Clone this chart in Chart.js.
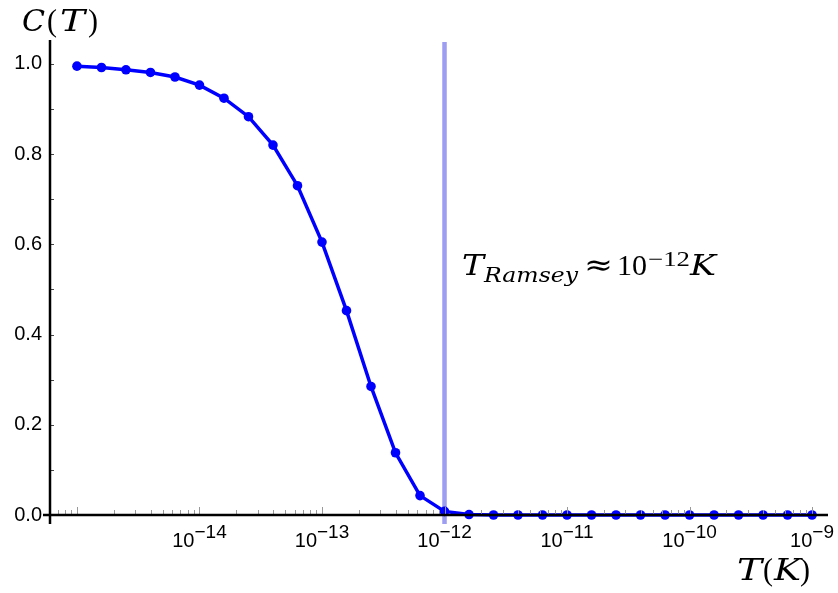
<!DOCTYPE html>
<html>
<head>
<meta charset="utf-8">
<script src="https://cdn.jsdelivr.net/npm/chart.js@4"></script>
<style>
html,body{margin:0;padding:0;background:#fff;}
#wrap{width:838px;height:593px;position:relative;}
</style>
</head>
<body>
<div id="wrap"><canvas id="c" width="838" height="593"></canvas></div>
<script>
// Data (exponents of T in K, and C(T) values)
const exponents = [-15, -14.8, -14.6, -14.4, -14.2, -14, -13.8, -13.6, -13.4, -13.2, -13, -12.8, -12.6, -12.4, -12.2, -12, -11.8, -11.6, -11.4, -11.2, -11, -10.8, -10.6, -10.4, -10.2, -10, -9.8, -9.6, -9.4, -9.2, -9];
const cValues = [0.995, 0.992, 0.987, 0.981, 0.971, 0.953, 0.924, 0.883, 0.820, 0.730, 0.605, 0.453, 0.285, 0.138, 0.043, 0.008, 0.001, 0, 0, 0, 0, 0, 0, 0, 0, 0, 0, 0, 0, 0, 0];
const labeledDecades = [-14, -13, -12, -11, -10, -9];
const yTicks = [0, 0.2, 0.4, 0.6, 0.8, 1.0];
const ramseyExponent = -12;

const points = exponents.map((e, i) => ({x: Math.pow(10, e), y: cValues[i]}));

const SANS = '"Liberation Sans", Arial, sans-serif';
const SERIF = '"Liberation Serif", "Times New Roman", serif';
const WSERIF = '"DejaVu Serif", "Liberation Serif", serif';

const decor = {
  id: 'decor',
  beforeDatasetsDraw(chart) {
    const ctx = chart.ctx;
    const xs = chart.scales.x;
    const ca = chart.chartArea;
    const rx = xs.getPixelForValue(Math.pow(10, ramseyExponent));
    ctx.save();
    ctx.strokeStyle = 'rgba(140,140,240,0.85)';
    ctx.lineWidth = 4.5;
    ctx.beginPath();
    ctx.moveTo(rx, ca.top + 2);
    ctx.lineTo(rx, ca.bottom + 9);
    ctx.stroke();
    ctx.restore();
  },
  afterDraw(chart) {
    const ctx = chart.ctx;
    const xs = chart.scales.x, ys = chart.scales.y;
    const ca = chart.chartArea;
    const y0 = ys.getPixelForValue(0);
    ctx.save();
    // x minor / major ticks
    ctx.strokeStyle = '#999';
    ctx.lineWidth = 1;
    for (let d = -16; d <= -9; d++) {
      for (let m = 1; m <= 9; m++) {
        const v = m * Math.pow(10, d);
        const px = xs.getPixelForValue(v);
        if (px < ca.left + 2 || px > ca.right) continue;
        const len = (m === 1) ? 8 : 5;
        ctx.beginPath();
        ctx.moveTo(Math.round(px) + 0.5, y0);
        ctx.lineTo(Math.round(px) + 0.5, y0 - len);
        ctx.stroke();
      }
    }
    // y ticks (0.1 steps)
    ctx.strokeStyle = '#444';
    for (let k = 1; k <= 10; k++) {
      const py = ys.getPixelForValue(k / 10);
      ctx.beginPath();
      ctx.moveTo(ca.left, Math.round(py) + 0.5);
      ctx.lineTo(ca.left + 4, Math.round(py) + 0.5);
      ctx.stroke();
    }
    // axis lines
    ctx.strokeStyle = '#000';
    ctx.lineWidth = 2.5;
    ctx.beginPath();
    ctx.moveTo(ca.left - 7, y0);
    ctx.lineTo(ca.right, y0);
    ctx.stroke();
    ctx.beginPath();
    ctx.moveTo(ca.left, ca.top);
    ctx.lineTo(ca.left, y0 + 9);
    ctx.stroke();

    // x tick labels 10^n
    ctx.fillStyle = '#000';
    ctx.textBaseline = 'alphabetic';
    labeledDecades.forEach(d => {
      const px = xs.getPixelForValue(Math.pow(10, d));
      ctx.font = '20px ' + SANS;
      const w1 = ctx.measureText('10').width;
      ctx.font = '19px ' + SANS;
      const sup = '\u2212' + Math.abs(d);
      const w2 = ctx.measureText(sup).width;
      const start = px - (w1 + w2) / 2;
      ctx.font = '20px ' + SANS;
      ctx.textAlign = 'left';
      ctx.fillText('10', start, 547);
      ctx.font = '19px ' + SANS;
      ctx.fillText(sup, start + w1, 538);
    });

    // glyph-run text, each run fitted to a width
    function run(parts) {
      parts.forEach(p => {
        ctx.font = p.f;
        ctx.textAlign = 'left';
        const w = ctx.measureText(p.t).width;
        const sx = p.w / w;
        ctx.save();
        ctx.translate(p.x, p.y);
        ctx.scale(sx, 1);
        ctx.fillText(p.t, 0, 0);
        ctx.restore();
      });
    }
    // axis titles
    run([
      {t: 'C', f: 'italic 29px ' + WSERIF, x: 22, y: 31, w: 23},
      {t: '(', f: '31px ' + SERIF, x: 47, y: 31, w: 10},
      {t: 'T', f: 'italic 29px ' + WSERIF, x: 60, y: 31, w: 25},
      {t: ')', f: '31px ' + SERIF, x: 88, y: 31, w: 10}
    ]);
    run([
      {t: 'T', f: 'italic 29px ' + WSERIF, x: 737, y: 580, w: 25},
      {t: '(', f: '31px ' + SERIF, x: 763, y: 580, w: 10},
      {t: 'K', f: 'italic 29px ' + WSERIF, x: 774, y: 580, w: 27},
      {t: ')', f: '31px ' + SERIF, x: 800, y: 580, w: 10}
    ]);
    // annotation
    run([
      {t: 'T', f: 'italic 28px ' + WSERIF, x: 462, y: 275, w: 22},
      {t: 'Ramsey', f: 'italic 20px ' + WSERIF, x: 484, y: 282, w: 94},
      {t: '\u2248', f: '30px ' + WSERIF, x: 584, y: 275, w: 29},
      {t: '10', f: '30px ' + SERIF, x: 617, y: 275, w: 30},
      {t: '\u221212', f: '21px ' + SERIF, x: 648, y: 266, w: 42},
      {t: 'K', f: 'italic 28px ' + WSERIF, x: 690, y: 275, w: 26}
    ]);
    ctx.restore();
  }
};

new Chart(document.getElementById('c'), {
  type: 'line',
  data: {
    datasets: [{
      data: points,
      borderColor: '#0000ff',
      backgroundColor: '#0000ff',
      borderWidth: 3.5,
      pointRadius: 4.8,
      pointHoverRadius: 4.8,
      pointBorderWidth: 0,
      tension: 0,
      clip: false
    }]
  },
  options: {
    responsive: false,
    animation: false,
    events: [],
    layout: {padding: {top: 40, right: 10, left: 0, bottom: 0}},
    plugins: {legend: {display: false}, tooltip: {enabled: false}},
    scales: {
      x: {
        type: 'logarithmic',
        min: Math.pow(10, -15.22),
        max: Math.pow(10, -8.87),
        grid: {display: false},
        border: {display: false},
        ticks: {display: false},
        afterFit(s) { s.height = 78; }
      },
      y: {
        type: 'linear',
        min: 0,
        max: 1.053,
        afterBuildTicks(s) { s.ticks = yTicks.map(v => ({value: v})); },
        grid: {display: false, drawTicks: false},
        border: {display: false},
        ticks: {
          color: '#000',
          padding: 8,
          font: {family: SANS, size: 20},
          callback: v => Number(v).toFixed(1)
        },
        afterFit(s) { s.width = 50; }
      }
    }
  },
  plugins: [decor]
});
</script>
</body>
</html>
